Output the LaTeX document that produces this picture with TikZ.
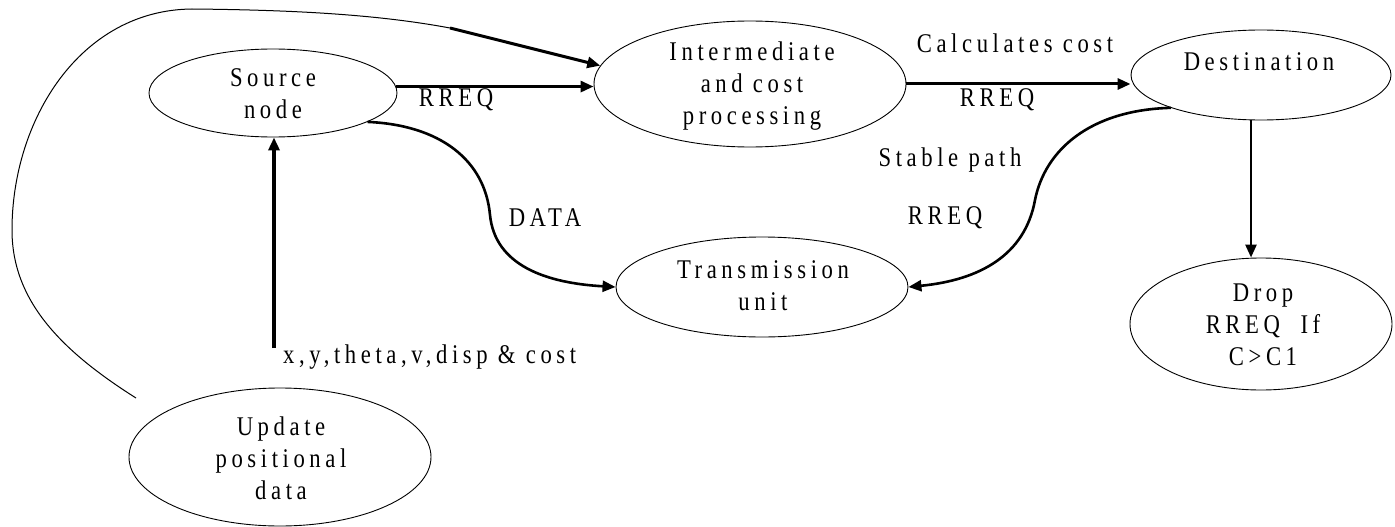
\documentclass[tikz,border=0pt]{standalone}
\usepackage{fontspec}
\setmainfont{Liberation Serif}[LetterSpace=17, FakeStretch=0.84]
\usetikzlibrary{arrows.meta,shapes.geometric}
\begin{document}
\begin{tikzpicture}[x=1pt,y=-1pt,
  ell/.style={draw, ellipse, inner sep=0pt, line width=0.9pt},
  txt/.style={font=\fontsize{27}{32}\selectfont, align=center, inner sep=0pt},
  tip/.style={-{Triangle[length=13pt,width=11pt]}},
  thickline/.style={line width=3pt},
  midline/.style={line width=2.6pt},
  thinline/.style={line width=1pt}]
\useasboundingbox (0,0) rectangle (1395,527);
% ellipses
\node[ell, minimum width=248pt, minimum height=88pt] (src) at (273,93) {};
\node[ell, minimum width=312pt, minimum height=126pt] (inter) at (750,84) {};
\node[ell, minimum width=260pt, minimum height=90pt] (dest) at (1261,75) {};
\node[ell, minimum width=292pt, minimum height=100pt] (trans) at (762,287) {};
\node[ell, minimum width=262pt, minimum height=132pt] (drop) at (1261,324) {};
\node[ell, minimum width=302pt, minimum height=138pt] (upd) at (280,457) {};
% texts inside
\node[txt] (srct) at (273,94) {Source\\node};
\node[txt] (intert) at (752,86) {Intermediate\\and cost\\processing};
\node[txt] (destt) at (1259,62) {Destination};
\node[txt] (transt) at (763,286) {Transmission\\unit};
\node[txt] (dropt) at (1263,325) {Drop\\RREQ\ \ If\\C>C1};
\node[txt] (updt) at (281,458) {Update\\positional\\data};
% labels
\node[txt] (l1) at (456,100) {RREQ};
\node[txt] (l2) at (1015,43) {Calculates cost};
\node[txt] (l3) at (997,100) {RREQ};
\node[txt] (l4) at (545,218) {DATA};
\node[txt] (l5) at (950,160) {Stable path};
\node[txt] (l6) at (945,218) {RREQ};
\node[txt, anchor=west] (l7) at (283,357) {x,y,theta,v,disp \& cost};
% connectors
\draw[thickline, tip] (src.3) -- (src.3 -| inter.west);
\draw[thickline, tip] (inter.east) -- (inter.east -| dest.west);
\draw[midline, tip] ([xshift=-10pt]dest.south) -- ([xshift=-10pt]drop.north);
\coordinate (vstart) at (274,348);
\draw[line width=4.5pt, tip] (vstart) -- (vstart |- src.south);
\draw[midline, tip] (src.-17) .. controls (440,125) and (485,160) .. (490,215)
  .. controls (495,265) and (545,283) .. (trans.west);
\draw[midline, tip] (dest.200) .. controls (1090,110) and (1045,150) .. (1035,200)
  .. controls (1025,255) and (980,280) .. (trans.east);
\coordinate (ustart) at (136,398);
\coordinate (bend) at (450,28);
\draw[thinline] (ustart) .. controls (60,350) and (12,300) .. (12,230)
  .. controls (12,120) and (80,10) .. (192,9)
  .. controls (300,10) and (380,15) .. (bend);
\draw[thickline, tip] (bend) -- (inter.173);
\end{tikzpicture}
\end{document}
